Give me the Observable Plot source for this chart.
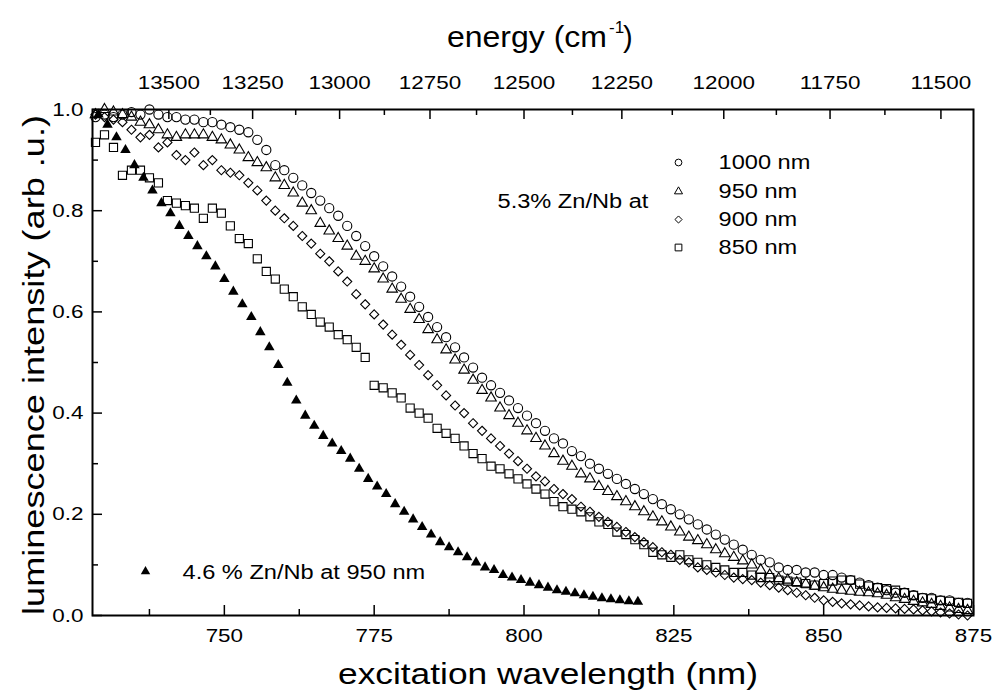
<!DOCTYPE html>
<html><head><meta charset="utf-8">
<script src="https://cdn.jsdelivr.net/npm/d3@7"></script>
<script src="https://cdn.jsdelivr.net/npm/@observablehq/plot@0.6"></script>
<style>
body{margin:0;background:#fff}
svg text{font-family:"Liberation Sans",Arial,sans-serif}
</style>
</head><body><div id="chart"></div>
<script>
const wavelength = [728.5,730,731.5,733,734.5,736,737.5,739,740.5,742,
743.5,745,746.5,748,749.5,751,752.5,754,755.5,757,
758.5,760,761.5,763,764.5,766,767.5,769,770.5,772,
773.5,775,776.5,778,779.5,781,782.5,784,785.5,787,
788.5,790,791.5,793,794.5,796,797.5,799,800.5,802,
803.5,805,806.5,808,809.5,811,812.5,814,815.5,817,
818.5,820,821.5,823,824.5,826,827.5,829,830.5,832,
833.5,835,836.5,838,839.5,841,842.5,844,845.5,847,
848.5,850,851.5,853,854.5,856,857.5,859,860.5,862,
863.5,865,866.5,868,869.5,871,872.5,874];

const s1000 = [.985,.99,.985,.99,.995,.99,1.0,.99,.985,.985,
.98,.98,.975,.975,.97,.965,.96,.955,.94,.92,
.89,.88,.865,.85,.835,.82,.805,.79,.77,.75,
.73,.71,.69,.67,.65,.63,.61,.59,.57,.55,
.53,.51,.49,.47,.455,.44,.425,.41,.395,.38,
.365,.35,.34,.325,.315,.30,.29,.28,.27,.26,
.25,.24,.23,.22,.21,.20,.19,.18,.17,.16,
.15,.14,.13,.12,.11,.105,.095,.09,.09,.085,
.085,.08,.08,.075,.07,.065,.06,.055,.05,.045,
.045,.04,.035,.035,.03,.03,.025,.025];

const s950 = [.99,1.0,.995,.99,.985,.975,.97,.96,.95,.945,
.95,.95,.95,.945,.94,.93,.92,.905,.895,.885,
.865,.85,.835,.815,.80,.775,.76,.745,.73,.71,
.70,.685,.665,.645,.625,.605,.585,.565,.545,.525,
.505,.485,.465,.445,.43,.41,.395,.38,.365,.35,
.335,.32,.305,.295,.28,.27,.255,.245,.235,.225,
.215,.205,.195,.185,.175,.165,.155,.148,.14,.13,
.122,.115,.108,.10,.09,.08,.073,.07,.065,.062,
.058,.055,.052,.05,.048,.046,.045,.043,.04,.035,
.032,.028,.025,.022,.018,.015,.012,.01];

const s900 = [.99,.985,.98,.975,.96,.945,.95,.925,.935,.91,
.90,.915,.89,.90,.88,.875,.87,.855,.84,.82,
.80,.785,.77,.75,.735,.715,.70,.68,.66,.635,
.615,.595,.575,.555,.535,.515,.495,.475,.455,.435,
.415,.40,.38,.365,.35,.335,.32,.305,.29,.275,
.265,.25,.24,.23,.215,.205,.195,.185,.175,.165,
.155,.145,.135,.125,.12,.11,.105,.095,.09,.085,
.08,.075,.072,.07,.065,.06,.055,.05,.045,.04,
.035,.03,.027,.024,.022,.02,.018,.016,.015,.014,
.013,.012,.01,.008,.006,.004,.002,.0];

const s850 = [.935,.95,.925,.87,.88,.88,.865,.855,.82,.815,
.81,.805,.785,.805,.795,.77,.745,.735,.705,.68,
.665,.645,.63,.61,.595,.58,.57,.555,.545,.53,
.51,.455,.45,.44,.43,.41,.40,.39,.37,.36,
.35,.335,.32,.31,.295,.29,.28,.27,.26,.25,
.24,.225,.215,.21,.205,.195,.185,.18,.165,.16,
.15,.14,.125,.12,.115,.12,.11,.105,.10,.095,
.09,.085,.085,.08,.075,.075,.07,.068,.066,.063,
.06,.063,.068,.07,.07,.062,.058,.055,.053,.05,
.045,.04,.035,.033,.03,.028,.026,.024];

const wl46 = [729,730.5,732,733.5,735,736.5,738,739.5,741,742.5,
744,745.5,747,748.5,750,751.5,753,754.5,756,757.5,
759,760.5,762,763.5,765,766.5,768,769.5,771,772.5,
774,775.5,777,778.5,780,781.5,783,784.5,786,787.5,
789,790.5,792,793.5,795,796.5,798,799.5,801,802.5,
804,805.5,807,808.5,810,811.5,813,814.5,816,817.5,
819];
const s46 = [.99,.97,.945,.92,.89,.865,.84,.815,.795,.77,
.75,.73,.71,.69,.665,.64,.615,.59,.56,.53,
.495,.46,.425,.395,.375,.355,.34,.325,.31,.29,
.27,.255,.24,.22,.205,.19,.175,.16,.145,.135,
.125,.115,.105,.095,.09,.08,.075,.07,.065,.06,
.055,.05,.047,.044,.04,.037,.034,.032,.03,.028,
.027];

const xTicks = [750,775,800,825,850,875];
const xMinor = [737.5,762.5,787.5,812.5,837.5,862.5];
const yTicks = [0,0.2,0.4,0.6,0.8,1.0];
const yMinor = [0.1,0.3,0.5,0.7,0.9];
const energyTicks = [13500,13250,13000,12750,12500,12250,12000,11750,11500];
const energyMinor = [13625,13375,13125,12875,12625,12375,12125,11875,11625];
const seriesLabels = ["1000 nm","950 nm","900 nm","850 nm"];
const seriesSymbols = ["circle","triangle","diamond2","square"];
const label46 = "4.6 % Zn/Nb at 950 nm";
const label53 = "5.3% Zn/Nb at";

const W = 995, H = 696;
const mL = 92, mR = 22, mT = 109, mB = 81;
const innerW = W - mL - mR, innerH = H - mT - mB;

const series = [s1000, s950, s900, s850];
const symR = [4.6, 3.9, 4.1, 4.6];
const legR = [3.4, 3.0, 3.2, 3.8];

const marks = [];
series.forEach((vals, k) => {
  const rows = wavelength.map((w, i) => ({w, v: vals[i]}));
  marks.push(Plot.dot(rows, {x: "w", y: "v", symbol: seriesSymbols[k], r: symR[k], stroke: "black", fill: "none", strokeWidth: 1.1}));
});
const rows46 = wl46.map((w, i) => ({w, v: s46[i]}));
marks.push(Plot.dot(rows46, {x: "w", y: "v", symbol: "triangle", r: 3.9, fill: "black", stroke: "none"}));

// legend
const legY = [53, 82, 110, 138];
seriesLabels.forEach((lab, k) => {
  marks.push(Plot.dot([0], {frameAnchor: "top-left", dx: 586, dy: legY[k], symbol: seriesSymbols[k], r: legR[k], stroke: "black", fill: "none", strokeWidth: 1}));
  marks.push(Plot.text([lab], {text: d => d, frameAnchor: "top-left", dx: 626, dy: legY[k], textAnchor: "start", lineAnchor: "middle", fontSize: 20, fill: "black"}));
});
marks.push(Plot.text([label53], {text: d => d, frameAnchor: "top-left", dx: 405, dy: 92, textAnchor: "start", lineAnchor: "middle", fontSize: 20, fill: "black"}));
marks.push(Plot.dot([0], {frameAnchor: "top-left", dx: 53, dy: 462, symbol: "triangle", r: 3.5, fill: "black"}));
marks.push(Plot.text([label46], {text: d => d, frameAnchor: "top-left", dx: 90, dy: 463, textAnchor: "start", lineAnchor: "middle", fontSize: 20, fill: "black"}));

// ticks (inward)
marks.push(Plot.tickX(xTicks, {x: d => d, insetTop: innerH - 10, stroke: "black", strokeWidth: 1.5}));
marks.push(Plot.tickX(xMinor, {x: d => d, insetTop: innerH - 6, stroke: "black", strokeWidth: 1.5}));
marks.push(Plot.tickX(energyTicks.map(e => 1e7 / e), {x: d => d, insetBottom: innerH - 10, stroke: "black", strokeWidth: 1.5}));
marks.push(Plot.tickX(energyMinor.map(e => 1e7 / e), {x: d => d, insetBottom: innerH - 6, stroke: "black", strokeWidth: 1.5}));
marks.push(Plot.tickY(yTicks, {y: d => d, insetRight: innerW - 10, stroke: "black", strokeWidth: 1.5}));
marks.push(Plot.tickY(yMinor, {y: d => d, insetRight: innerW - 6, stroke: "black", strokeWidth: 1.5}));

// axes labels
marks.push(Plot.axisX({anchor: "bottom", ticks: xTicks, tickSize: 0, tickPadding: 13, fontSize: 19, label: null}));
marks.push(Plot.axisX({anchor: "top", ticks: energyTicks.map(e => 1e7 / e), tickFormat: d => String(Math.round(1e7 / d)), tickSize: 0, tickPadding: 21, fontSize: 19, label: null}));
marks.push(Plot.axisY({anchor: "left", ticks: yTicks, tickFormat: d3.format(".1f"), tickSize: 0, tickPadding: 9, fontSize: 19, label: null}));
marks.push(Plot.frame({stroke: "black", strokeWidth: 2}));

const chart = Plot.plot({
  width: W, height: H,
  marginLeft: mL, marginRight: mR, marginTop: mT, marginBottom: mB,
  x: {domain: [728, 875]},
  y: {domain: [0, 1]},
  style: {fontFamily: "Liberation Sans, Arial, sans-serif", fontSize: "19px", background: "white", color: "black"},
  marks
});
document.getElementById("chart").appendChild(chart);

const svg = d3.select(chart);
function stretch(node, k) {
  const L = node.getComputedTextLength();
  if (L > 0) { node.setAttribute("textLength", L * k); node.setAttribute("lengthAdjust", "spacingAndGlyphs"); }
}
svg.selectAll("text").each(function () { stretch(this, 1.18); });

// axis titles
const fam = "Liberation Sans, Arial, sans-serif";
svg.append("text").attr("x", 548).attr("y", 684).attr("text-anchor", "middle")
  .attr("font-size", 30).attr("font-family", fam).attr("fill", "black")
  .text("excitation wavelength (nm)").each(function () { this.setAttribute("textLength", 420); this.setAttribute("lengthAdjust", "spacingAndGlyphs"); });
svg.append("text").attr("transform", "translate(44,365) rotate(-90)").attr("text-anchor", "middle")
  .attr("font-size", 29).attr("font-family", fam).attr("fill", "black")
  .text("luminescence intensity (arb .u.)").each(function () { this.setAttribute("textLength", 500); this.setAttribute("lengthAdjust", "spacingAndGlyphs"); });
const topTitle = svg.append("g").attr("font-family", fam).attr("fill", "black").attr("text-anchor", "start");
topTitle.append("text").attr("x", 447).attr("y", 47).attr("font-size", 29).attr("text-anchor", "start").text("energy (cm")
  .each(function () { this.setAttribute("textLength", 160); this.setAttribute("lengthAdjust", "spacingAndGlyphs"); });
topTitle.append("text").attr("x", 609).attr("y", 33).attr("font-size", 17).attr("text-anchor", "start").text("-1");
topTitle.append("text").attr("x", 623).attr("y", 47).attr("font-size", 29).attr("text-anchor", "start").text(")");
</script>
</body></html>
